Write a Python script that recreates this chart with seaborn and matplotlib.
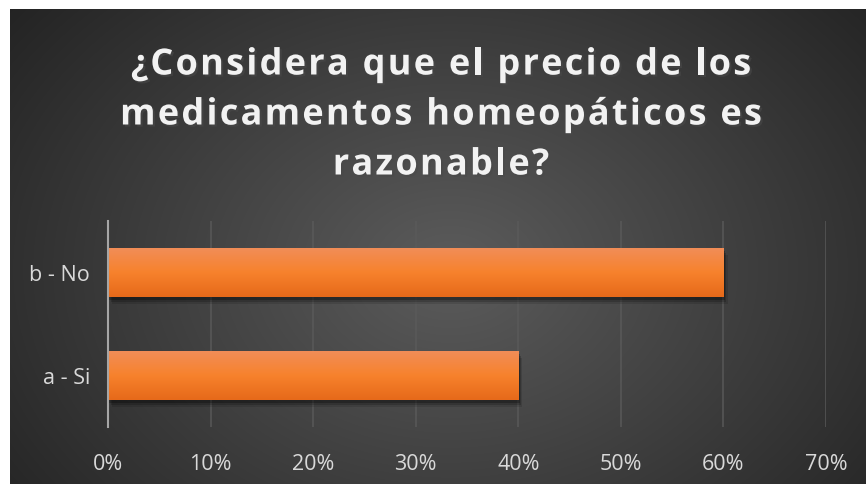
import matplotlib

matplotlib.use("Agg")
import matplotlib.pyplot as plt
import matplotlib.patheffects as pe
import numpy as np
import pandas as pd
import seaborn as sns
from matplotlib.colors import LinearSegmentedColormap
from matplotlib.font_manager import FontProperties
from matplotlib.textpath import TextToPath
from matplotlib.ticker import PercentFormatter

# Data
categories = ["b - No", "a - Si"]
shares = [0.60, 0.40]
x_ticks = [0.0, 0.1, 0.2, 0.3, 0.4, 0.5, 0.6, 0.7]
title_lines = ["¿Considera que el precio de los",
               "medicamentos homeopáticos es",
               "razonable?"]

df = pd.DataFrame({"respuesta": categories, "porcentaje": shares})

sns.set_style("white")
plt.rcParams["font.family"] = ["Open Sans", "DejaVu Sans"]

W, H = 866, 485
fig = plt.figure(figsize=(W / 100, H / 100), dpi=100)
fig.patch.set_facecolor("white")

# Dark radial-gradient panel behind the chart
bg = fig.add_axes([10 / W, 0, (W - 10) / W, (H - 10) / H], zorder=0)
yy, xx = np.mgrid[0:475, 0:856]
r = np.sqrt(((xx - 440) / 560) ** 2 + ((yy - 260) / 420) ** 2)
r = np.clip(r, 0, 1)
light, dark = np.array([0.36, 0.36, 0.36]), np.array([0.14, 0.14, 0.14])
img = light[None, None, :] * (1 - r[..., None]) + dark[None, None, :] * r[..., None]
bg.imshow(img, aspect="auto", interpolation="bilinear")
bg.axis("off")

# Bar chart
ax = fig.add_axes([108 / W, 1 - 428 / H, 718 / W, 206 / H], zorder=1)
ax.patch.set_alpha(0)
sns.barplot(data=df, x="porcentaje", y="respuesta", orient="h",
            color="#f47d30", width=0.475, linewidth=0, ax=ax, zorder=3)

ax.set_xlim(0, 0.7)
ax.set_xticks(x_ticks)
ax.xaxis.set_major_formatter(PercentFormatter(1.0, decimals=0))
ax.set_xlabel("")
ax.set_ylabel("")
ax.grid(axis="x", color="#5a5a5a", linewidth=1.3, alpha=0.8, zorder=0)
ax.grid(axis="y", visible=False)
for s in ["top", "right", "bottom"]:
    ax.spines[s].set_visible(False)
ax.spines["left"].set_color("#a6a6a6")
ax.spines["left"].set_linewidth(1.5)
ax.spines["left"].set_zorder(5)
ax.tick_params(axis="both", length=0, colors="#d9d9d9", labelsize=15.5)
ax.tick_params(axis="x", pad=19)
ax.tick_params(axis="y", pad=13)

# vertical orange gradient + soft shadow on each bar
bar_cmap = LinearSegmentedColormap.from_list(
    "bar", ["#f18d57", "#f7822c", "#e6691a"])
grad = np.linspace(0, 1, 64)[:, None]
for bar in ax.patches:
    bar.set_path_effects([
        pe.SimplePatchShadow(offset=(3, -5), shadow_rgbFace="black", alpha=0.12),
        pe.SimplePatchShadow(offset=(2, -3.5), shadow_rgbFace="black", alpha=0.18),
        pe.SimplePatchShadow(offset=(1, -2), shadow_rgbFace="black", alpha=0.25),
        pe.Normal()])
    x0, y0 = bar.get_x(), bar.get_y()
    w, h = bar.get_width(), bar.get_height()
    im = ax.imshow(grad, cmap=bar_cmap, aspect="auto", zorder=4,
                   extent=[x0, x0 + w, y0 + h, y0], interpolation="bilinear")
    im.set_clip_path(bar)
ax.set_xlim(0, 0.7)
ax.set_ylim(1.5, -0.5)

# Title with letter spacing (laid out character by character)
tfont = FontProperties(family=["Open Sans", "DejaVu Sans"], weight="bold", size=26)
t2p = TextToPath()
tracking = 2.25  # px between characters
shadow = [pe.withSimplePatchShadow(offset=(1.5, -1.5), alpha=0.6)]
for line, yc in zip(title_lines, [62, 112, 162]):
    widths = [t2p.get_text_width_height_descent(c, tfont, ismath=False)[0] * 100 / 72
              for c in line]
    total = sum(widths) + tracking * (len(line) - 1)
    x = 441 - total / 2
    for c, w in zip(line, widths):
        if c != " ":
            fig.text(x / W, 1 - yc / H, c, ha="left", va="center_baseline",
                     fontproperties=tfont, color="#f2f2f2", path_effects=shadow)
        x += w + tracking

fig.savefig("out.png", dpi=100)
